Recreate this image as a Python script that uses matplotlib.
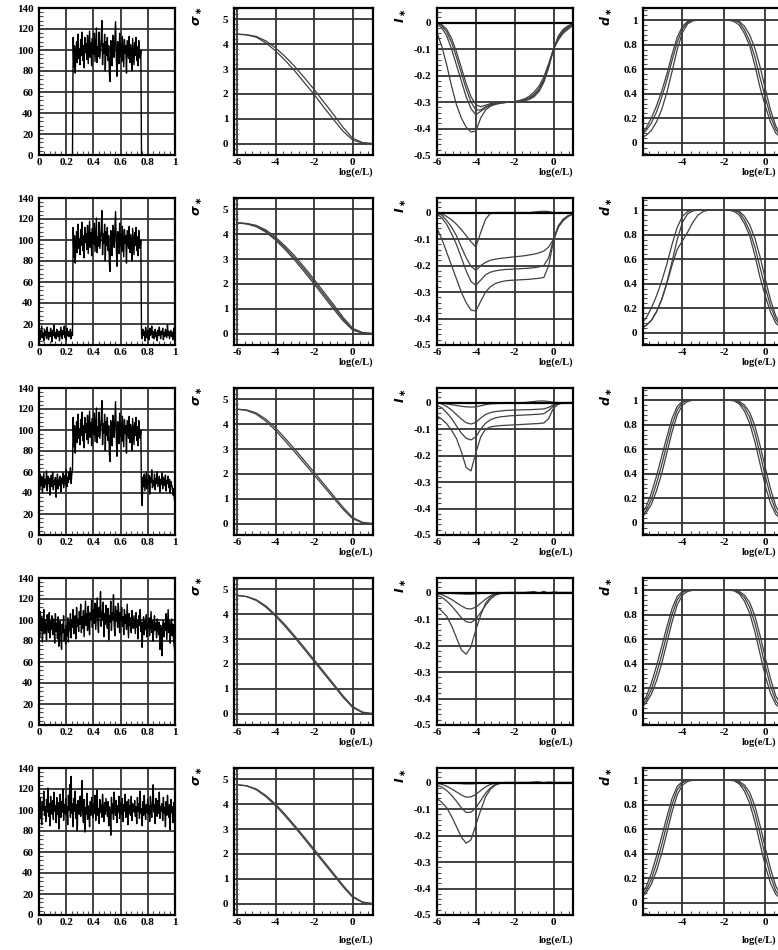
import matplotlib
matplotlib.use('Agg')
import matplotlib.pyplot as plt
import numpy as np
from matplotlib.ticker import FixedLocator, MultipleLocator

plt.rcParams['font.family'] = ['Liberation Serif', 'DejaVu Serif']
plt.rcParams['font.weight'] = 'bold'
plt.rcParams['font.size'] = 8

W, H = 778, 950

# ---- signals (left column) ----
plateau = [
    112, 84, 104, 78, 96, 108, 88, 115, 92, 101,
    86, 110, 95, 117, 90, 104, 83, 112, 98, 106,
    91, 114, 87, 102, 118, 93, 107, 85, 111, 99,
    96, 116, 89, 105, 121, 88, 103, 94, 117, 92,
    101, 110, 128, 86, 106, 97, 115, 80, 108, 95,
    112, 90, 104, 77, 70, 109, 98, 85, 114, 100,
    93, 111, 127, 96, 75, 108, 102, 87, 116, 94,
    106, 89, 113, 98, 84, 110, 97, 104, 78, 109,
    101, 92, 113, 88, 105, 96, 80, 111, 99, 86,
    107, 95, 112, 90, 103, 85, 109, 97, 92, 100,
]
side0 = [0] * 50
side2_left = [8, 14, 5, 12, 18, 7, 11, 4, 15, 9, 13, 6, 17, 10, 5, 12, 8, 16, 11, 3,
              14, 9, 19, 7, 12, 6, 15, 10, 8, 13, 4, 11, 17, 9, 6, 14, 10, 18, 7, 12,
              5, 16, 9, 13, 8, 11, 15, 6, 12, 9]
side2_right = [11, 6, 15, 9, 13, 4, 17, 10, 7, 14, 12, 5, 16, 9, 11, 18, 7, 13, 6, 10,
               15, 8, 12, 4, 14, 9, 17, 11, 6, 13, 10, 16, 5, 12, 8, 15, 11, 7, 19, 9,
               13, 6, 10, 14, 8, 12, 5, 16, 9, 11]
side3_left = [52, 44, 58, 47, 55, 40, 50, 59, 45, 53, 48, 61, 42, 56, 49, 54, 38, 51, 57, 46,
              60, 43, 52, 48, 55, 36, 50, 58, 44, 53, 47, 56, 41, 54, 49, 59, 45, 52, 57, 48,
              62, 46, 55, 50, 60, 53, 64, 49, 58, 62]
side3_right = [40, 28, 55, 46, 58, 42, 51, 60, 44, 53, 48, 57, 39, 55, 50, 62, 45, 52, 47, 58,
               43, 54, 49, 60, 46, 51, 56, 41, 53, 48, 59, 44, 55, 50, 47, 57, 42, 52, 49, 56,
               45, 53, 40, 51, 48, 46, 38, 44, 35, 30]
signal4 = [
    98, 84, 108, 90, 102, 79, 96, 110, 87, 100, 93, 81, 105, 95, 88, 107, 83, 99, 91, 104,
    86, 101, 94, 78, 106, 89, 97, 82, 103, 75, 92, 99, 84, 72, 96, 88, 104, 80, 91, 77,
    95, 85, 102, 79, 98, 90, 106, 83, 100, 93, 110, 87, 97, 104, 82, 112, 94, 101, 89, 108,
    96, 115, 88, 103, 92, 109, 84, 100, 118, 95, 106, 90, 113, 98, 86, 107, 101, 119, 93, 104,
    110, 97, 116, 91, 105, 121, 99, 88, 112, 103, 127, 94, 108, 100, 117, 84, 106, 96, 114, 102,
    92, 111, 81, 104, 98, 118, 90, 107, 101, 124, 95, 85, 113, 99, 109, 93, 116, 104, 88, 107,
    100, 112, 94, 103, 86, 110, 97, 105, 91, 115, 99, 83, 106, 95, 102, 88, 109, 97, 92, 104,
    96, 87, 107, 93, 100, 82, 104, 95, 110, 89, 98, 74, 94, 103, 86, 99, 91, 105, 84, 97,
    93, 102, 85, 96, 108, 88, 99, 80, 94, 104, 90, 97, 83, 101, 92, 86, 98, 72, 95, 89,
    66, 94, 100, 84, 97, 90, 106, 81, 95, 110, 88, 99, 78, 93, 101, 85, 96, 80, 74, 68,
]
signal5 = [
    104, 92, 112, 97, 86, 108, 100, 118, 95, 103, 89, 110, 98, 121, 94, 106, 85, 113, 101, 96,
    109, 91, 117, 99, 104, 88, 112, 96, 107, 82, 101, 115, 93, 108, 98, 120, 90, 105, 97, 111,
    95, 103, 86, 114, 100, 124, 93, 132, 97, 106, 84, 111, 99, 118, 92, 105, 80, 109, 101, 96,
    113, 94, 107, 128, 98, 88, 110, 79, 102, 96, 116, 91, 104, 99, 84, 108, 95, 112, 100, 93,
    106, 97, 114, 90, 103, 119, 95, 101, 87, 110, 98, 105, 93, 115, 100, 89, 107, 96, 111, 102,
    94, 108, 85, 103, 99, 76, 112, 97, 106, 91, 117, 101, 95, 109, 88, 104, 98, 113, 92, 107,
    100, 96, 111, 89, 105, 99, 115, 93, 102, 108, 86, 110, 97, 104, 95, 113, 90, 106, 101, 98,
    109, 94, 103, 87, 112, 99, 106, 92, 118, 97, 101, 85, 108, 95, 114, 100, 91, 105, 98, 110,
    96, 104, 89, 113, 101, 93, 107, 124, 98, 105, 87, 111, 100, 94, 109, 97, 117, 92, 103, 99,
    106, 90, 112, 97, 102, 84, 108, 95, 114, 100, 93, 105, 81, 110, 98, 103, 88, 107, 96, 101,
]
signals = [
    side0 + plateau + side0,
    side2_left + plateau + side2_right,
    side3_left + plateau + side3_right,
    signal4,
    signal5,
]

# ---- sigma vs log(e/L) ----
log_coarse = [-6, -5.5, -5, -4.5, -4, -3.5, -3, -2.5, -2, -1.5, -1, -0.5, 0, 0.5, 1]
sigma = [
    [[4.40, 4.37, 4.28, 4.05, 3.73, 3.35, 2.92, 2.45, 1.98, 1.47, 0.98, 0.50, 0.15, 0.03, 0.01],
     [4.40, 4.38, 4.31, 4.13, 3.85, 3.50, 3.10, 2.65, 2.18, 1.68, 1.18, 0.66, 0.22, 0.05, 0.01]],
    [[4.45, 4.41, 4.30, 4.08, 3.76, 3.38, 2.95, 2.48, 2.00, 1.50, 1.00, 0.52, 0.15, 0.03, 0.01],
     [4.45, 4.42, 4.33, 4.12, 3.82, 3.45, 3.03, 2.57, 2.09, 1.59, 1.09, 0.59, 0.18, 0.04, 0.01],
     [4.45, 4.43, 4.35, 4.17, 3.88, 3.52, 3.12, 2.66, 2.18, 1.68, 1.18, 0.66, 0.22, 0.05, 0.01]],
    [[4.60, 4.55, 4.40, 4.12, 3.75, 3.32, 2.88, 2.42, 1.96, 1.50, 1.04, 0.58, 0.20, 0.04, 0.01],
     [4.60, 4.57, 4.45, 4.20, 3.85, 3.43, 2.99, 2.53, 2.07, 1.60, 1.13, 0.66, 0.25, 0.06, 0.01]],
    [[4.75, 4.70, 4.55, 4.28, 3.92, 3.50, 3.05, 2.58, 2.10, 1.62, 1.14, 0.66, 0.25, 0.05, 0.01],
     [4.75, 4.71, 4.58, 4.33, 3.98, 3.57, 3.12, 2.65, 2.17, 1.69, 1.21, 0.72, 0.29, 0.07, 0.01]],
    [[4.78, 4.73, 4.58, 4.30, 3.94, 3.52, 3.07, 2.60, 2.12, 1.64, 1.16, 0.68, 0.26, 0.06, 0.01],
     [4.78, 4.74, 4.61, 4.35, 4.00, 3.59, 3.14, 2.67, 2.19, 1.71, 1.23, 0.74, 0.30, 0.07, 0.01]],
]

# ---- I and d vs log(e/L) ----
log_fine = [-6, -5.75, -5.5, -5.25, -5, -4.75, -4.5, -4.25, -4, -3.75, -3.5, -3.25, -3, -2.75,
            -2.5, -2.25, -2, -1.75, -1.5, -1.25, -1, -0.75, -0.5, -0.25, 0, 0.25, 0.5, 0.75, 1]
info = [
    [[-0.04, -0.09, -0.16, -0.24, -0.31, -0.36, -0.395, -0.413, -0.41, -0.36, -0.33, -0.316, -0.309, -0.305,
      -0.302, -0.30, -0.30, -0.298, -0.295, -0.29, -0.28, -0.26, -0.225, -0.17, -0.10, -0.055, -0.03, -0.015, -0.005],
     [-0.005, -0.02, -0.05, -0.10, -0.16, -0.22, -0.28, -0.325, -0.348, -0.335, -0.322, -0.312, -0.307, -0.304,
      -0.302, -0.30, -0.30, -0.298, -0.294, -0.288, -0.275, -0.255, -0.22, -0.165, -0.10, -0.05, -0.025, -0.012, -0.004],
     [0, -0.012, -0.035, -0.075, -0.13, -0.19, -0.25, -0.30, -0.33, -0.33, -0.318, -0.31, -0.305, -0.303,
      -0.301, -0.30, -0.299, -0.296, -0.292, -0.284, -0.27, -0.25, -0.215, -0.16, -0.10, -0.06, -0.035, -0.02, -0.008],
     [0, -0.008, -0.025, -0.06, -0.11, -0.17, -0.23, -0.28, -0.31, -0.318, -0.312, -0.306, -0.303, -0.301,
      -0.30, -0.30, -0.298, -0.294, -0.288, -0.278, -0.262, -0.24, -0.205, -0.155, -0.10, -0.065, -0.04, -0.025, -0.01]],
    [[0, -0.004, -0.015, -0.027, -0.044, -0.064, -0.087, -0.11, -0.13, -0.075, -0.025, -0.003, 0, 0,
      0, 0, 0, 0, 0, 0, 0.002, 0.004, 0.005, 0.004, 0, 0, 0, 0, 0],
     [0, -0.01, -0.03, -0.055, -0.087, -0.13, -0.17, -0.203, -0.218, -0.2, -0.188, -0.18, -0.176, -0.173,
      -0.171, -0.169, -0.167, -0.165, -0.163, -0.16, -0.157, -0.152, -0.145, -0.13, -0.10, -0.05, -0.025, -0.012, -0.005],
     [-0.005, -0.02, -0.045, -0.08, -0.12, -0.17, -0.22, -0.26, -0.275, -0.255, -0.235, -0.225, -0.22, -0.217,
      -0.215, -0.214, -0.213, -0.212, -0.211, -0.21, -0.208, -0.205, -0.2, -0.17, -0.10, -0.05, -0.025, -0.012, -0.005],
     [-0.06, -0.10, -0.15, -0.20, -0.25, -0.30, -0.34, -0.368, -0.372, -0.335, -0.30, -0.28, -0.268, -0.262,
      -0.258, -0.256, -0.255, -0.254, -0.253, -0.252, -0.25, -0.248, -0.245, -0.20, -0.105, -0.055, -0.03, -0.015, -0.005]],
    [[0, -0.002, -0.005, -0.008, -0.011, -0.014, -0.016, -0.017, -0.016, -0.012, -0.008, -0.005, -0.004, -0.003,
      -0.003, -0.002, -0.002, -0.001, 0, 0.002, 0.004, 0.006, 0.006, 0.004, 0.001, 0, 0, 0, 0],
     [0, -0.005, -0.015, -0.028, -0.045, -0.062, -0.076, -0.081, -0.075, -0.058, -0.045, -0.038, -0.034, -0.032,
      -0.03, -0.029, -0.028, -0.028, -0.027, -0.027, -0.026, -0.025, -0.024, -0.018, -0.008, -0.003, -0.001, 0, 0],
     [-0.01, -0.02, -0.038, -0.06, -0.088, -0.115, -0.135, -0.141, -0.13, -0.10, -0.078, -0.065, -0.058, -0.054,
      -0.052, -0.05, -0.049, -0.048, -0.047, -0.046, -0.045, -0.044, -0.042, -0.03, -0.012, -0.004, -0.001, 0, 0],
     [-0.05, -0.063, -0.08, -0.105, -0.135, -0.185, -0.245, -0.258, -0.19, -0.13, -0.10, -0.092, -0.089, -0.087,
      -0.086, -0.085, -0.084, -0.083, -0.082, -0.081, -0.08, -0.079, -0.077, -0.06, -0.02, -0.006, -0.002, 0, 0]],
    [[0, 0, -0.002, -0.003, -0.004, -0.005, -0.006, -0.006, -0.005, -0.003, -0.002, -0.001, 0, 0,
      0, 0, 0, 0, 0, 0.002, 0.004, -0.003, 0.005, -0.004, 0.003, 0, 0, 0, 0],
     [-0.003, -0.008, -0.016, -0.026, -0.038, -0.05, -0.06, -0.062, -0.055, -0.04, -0.025, -0.012, -0.005, -0.002,
      0, 0, 0, 0, 0, 0, 0, 0, 0, 0, 0, 0, 0, 0, 0],
     [-0.01, -0.018, -0.032, -0.05, -0.072, -0.095, -0.11, -0.113, -0.10, -0.075, -0.048, -0.025, -0.01, -0.004,
      -0.001, 0, 0, 0, 0, 0, 0, 0, 0, 0, 0, 0, 0, 0, 0],
     [-0.054, -0.07, -0.09, -0.125, -0.17, -0.216, -0.233, -0.205, -0.14, -0.085, -0.04, -0.018, -0.007, -0.002,
      0, 0, 0, 0, 0, 0, 0, 0, 0, 0, 0, 0, 0, 0, 0]],
    [[0, 0, -0.001, -0.002, -0.003, -0.004, -0.005, -0.005, -0.004, -0.002, -0.001, 0, 0, 0,
      0, 0, 0, 0, 0, 0, 0.002, 0.003, -0.002, 0.002, 0, 0, 0, 0, 0],
     [-0.003, -0.007, -0.014, -0.024, -0.035, -0.047, -0.055, -0.054, -0.045, -0.03, -0.016, -0.007, -0.002, 0,
      0, 0, 0, 0, 0, 0, 0, 0, 0, 0, 0, 0, 0, 0, 0],
     [-0.01, -0.017, -0.03, -0.048, -0.07, -0.095, -0.113, -0.112, -0.095, -0.068, -0.04, -0.02, -0.007, -0.002,
      0, 0, 0, 0, 0, 0, 0, 0, 0, 0, 0, 0, 0, 0, 0],
     [-0.06, -0.075, -0.095, -0.128, -0.166, -0.205, -0.229, -0.216, -0.16, -0.104, -0.054, -0.025, -0.01, -0.003,
      0, 0, 0, 0, 0, 0, 0, 0, 0, 0, 0, 0, 0, 0, 0]],
]

dim = [
    [[0.07, 0.12, 0.20, 0.30, 0.42, 0.56, 0.72, 0.86, 0.95, 0.99, 1.0, 1.0, 1.0, 1.0,
      1.0, 1.0, 1.0, 1.0, 0.99, 0.96, 0.89, 0.79, 0.63, 0.45, 0.30, 0.17, 0.08, 0.04, 0.02],
     [0.06, 0.10, 0.16, 0.25, 0.37, 0.51, 0.67, 0.82, 0.93, 0.98, 1.0, 1.0, 1.0, 1.0,
      1.0, 1.0, 1.0, 1.0, 1.0, 0.98, 0.92, 0.83, 0.70, 0.53, 0.37, 0.22, 0.11, 0.05, 0.02],
     [0.04, 0.06, 0.10, 0.17, 0.27, 0.41, 0.58, 0.76, 0.90, 0.97, 0.995, 1.0, 1.0, 1.0,
      1.0, 1.0, 1.0, 1.0, 1.0, 0.99, 0.95, 0.88, 0.77, 0.62, 0.44, 0.27, 0.14, 0.06, 0.03]],
    [[0.07, 0.12, 0.20, 0.30, 0.42, 0.56, 0.72, 0.86, 0.95, 0.99, 1.0, 1.0, 1.0, 1.0,
      1.0, 1.0, 1.0, 1.0, 0.99, 0.96, 0.89, 0.79, 0.63, 0.45, 0.30, 0.17, 0.08, 0.04, 0.02],
     [0.04, 0.06, 0.10, 0.17, 0.27, 0.41, 0.58, 0.76, 0.90, 0.97, 0.995, 1.0, 1.0, 1.0,
      1.0, 1.0, 1.0, 1.0, 1.0, 0.99, 0.95, 0.88, 0.77, 0.62, 0.44, 0.27, 0.14, 0.06, 0.03],
     [0.03, 0.06, 0.10, 0.17, 0.27, 0.40, 0.55, 0.68, 0.75, 0.82, 0.90, 0.96, 0.99, 1.0,
      1.0, 1.0, 1.0, 1.0, 1.0, 0.98, 0.92, 0.83, 0.70, 0.53, 0.37, 0.22, 0.11, 0.05, 0.02]],
    [[0.06, 0.13, 0.24, 0.38, 0.54, 0.70, 0.85, 0.95, 0.99, 1.0, 1.0, 1.0, 1.0, 1.0,
      1.0, 1.0, 1.0, 1.0, 0.995, 0.97, 0.91, 0.81, 0.66, 0.48, 0.30, 0.16, 0.07, 0.03, 0.01],
     [0.05, 0.10, 0.19, 0.32, 0.47, 0.64, 0.80, 0.92, 0.98, 1.0, 1.0, 1.0, 1.0, 1.0,
      1.0, 1.0, 1.0, 1.0, 1.0, 0.98, 0.94, 0.86, 0.73, 0.56, 0.38, 0.22, 0.10, 0.04, 0.02],
     [0.04, 0.08, 0.15, 0.26, 0.40, 0.57, 0.74, 0.88, 0.96, 0.99, 1.0, 1.0, 1.0, 1.0,
      1.0, 1.0, 1.0, 1.0, 1.0, 0.99, 0.96, 0.90, 0.79, 0.63, 0.45, 0.28, 0.14, 0.06, 0.02]],
    [[0.06, 0.13, 0.24, 0.38, 0.54, 0.70, 0.85, 0.95, 0.99, 1.0, 1.0, 1.0, 1.0, 1.0,
      1.0, 1.0, 1.0, 1.0, 0.995, 0.97, 0.91, 0.81, 0.66, 0.48, 0.30, 0.16, 0.07, 0.03, 0.01],
     [0.05, 0.10, 0.19, 0.32, 0.47, 0.64, 0.80, 0.92, 0.98, 1.0, 1.0, 1.0, 1.0, 1.0,
      1.0, 1.0, 1.0, 1.0, 1.0, 0.98, 0.94, 0.86, 0.73, 0.56, 0.38, 0.22, 0.10, 0.04, 0.02],
     [0.04, 0.08, 0.15, 0.26, 0.40, 0.57, 0.74, 0.88, 0.96, 0.99, 1.0, 1.0, 1.0, 1.0,
      1.0, 1.0, 1.0, 1.0, 1.0, 0.99, 0.96, 0.90, 0.79, 0.63, 0.45, 0.28, 0.14, 0.06, 0.02]],
    [[0.06, 0.13, 0.24, 0.38, 0.54, 0.70, 0.85, 0.95, 0.99, 1.0, 1.0, 1.0, 1.0, 1.0,
      1.0, 1.0, 1.0, 1.0, 0.995, 0.97, 0.91, 0.81, 0.66, 0.48, 0.30, 0.16, 0.07, 0.03, 0.01],
     [0.05, 0.10, 0.19, 0.32, 0.47, 0.64, 0.80, 0.92, 0.98, 1.0, 1.0, 1.0, 1.0, 1.0,
      1.0, 1.0, 1.0, 1.0, 1.0, 0.98, 0.94, 0.86, 0.73, 0.56, 0.38, 0.22, 0.10, 0.04, 0.02],
     [0.04, 0.08, 0.15, 0.26, 0.40, 0.57, 0.74, 0.88, 0.96, 0.99, 1.0, 1.0, 1.0, 1.0,
      1.0, 1.0, 1.0, 1.0, 1.0, 0.99, 0.96, 0.90, 0.79, 0.63, 0.45, 0.28, 0.14, 0.06, 0.02]],
]

col_left = [39, 234, 437, 643]
col_width = [136, 139, 136, 143]
ylabels = [None, r'$\sigma_\ast$', r'$I_\ast$', r'$d_\ast$']
xlabel = 'log(e/L)'


def box(col, row):
    bottom = 1 - (155 + 190 * row) / H
    return [col_left[col] / W, bottom, col_width[col] / W, 147 / H]


def dress(ax, xlim, ylim, xt, xl, yt, yl, xminor, yminor):
    ax.set_xlim(*xlim)
    ax.set_ylim(*ylim)
    ax.xaxis.set_major_locator(FixedLocator(xt))
    ax.set_xticklabels(xl)
    ax.yaxis.set_major_locator(FixedLocator(yt))
    ax.set_yticklabels(yl)
    ax.xaxis.set_minor_locator(MultipleLocator(xminor))
    ax.yaxis.set_minor_locator(MultipleLocator(yminor))
    ax.grid(True, which='major', color='0.2', lw=1.3)
    ax.set_axisbelow(True)
    ax.tick_params(axis='x', which='major', length=0, pad=2)
    ax.tick_params(axis='y', which='major', length=0, pad=4)
    ax.tick_params(which='minor', direction='in', length=3, width=0.8, color='0.3')
    for sp in ax.spines.values():
        sp.set_linewidth(1.6)


fig = plt.figure(figsize=(W / 100, H / 100), dpi=100)

for r in range(5):
    # signal
    ax = fig.add_axes(box(0, r))
    ax.plot(np.linspace(0, 1, len(signals[r])), signals[r], color='k', lw=1.0)
    dress(ax, (0, 1), (0, 140),
          [0, 0.2, 0.4, 0.6, 0.8, 1], ['0', '0.2', '0.4', '0.6', '0.8', '1'],
          list(range(0, 141, 20)), [str(v) for v in range(0, 141, 20)], 0.04, 4)

    # sigma
    ax = fig.add_axes(box(1, r))
    for c in sigma[r]:
        ax.plot(log_coarse, c, color='0.25', lw=0.9)
    dress(ax, (-6.15, 1.05), (-0.45, 5.45),
          [-6, -4, -2, 0], ['-6', '-4', '-2', '0'],
          [0, 1, 2, 3, 4, 5], ['0', '1', '2', '3', '4', '5'], 0.4, 0.2)

    # information
    ax = fig.add_axes(box(2, r))
    for c in info[r]:
        ax.plot(log_fine, c, color='0.25', lw=0.9)
    ax.axhline(0, color='k', lw=1.6)
    dress(ax, (-6, 1), (-0.5, 0.055),
          [-6, -4, -2, 0], ['-6', '-4', '-2', '0'],
          [0, -0.1, -0.2, -0.3, -0.4, -0.5], ['0', '-0.1', '-0.2', '-0.3', '-0.4', '-0.5'], 0.4, 0.02)

    # dimension
    ax = fig.add_axes(box(3, r))
    for c in dim[r]:
        ax.plot(log_fine, c, color='0.25', lw=0.9)
    dress(ax, (-5.9, 1), (-0.1, 1.1),
          [-4, -2, 0], ['-4', '-2', '0'],
          [0, 0.2, 0.4, 0.6, 0.8, 1], ['0', '0.2', '0.4', '0.6', '0.8', '1'], 0.4, 0.04)

    drop = 25 if r == 4 else 17
    for col in (1, 2, 3):
        x0 = min(col_left[col] + col_width[col], W - 2) / W
        y0 = 1 - (155 + 190 * r + drop) / H
        fig.text(x0, y0, xlabel, ha='right', va='center', fontsize=7.5)
        fig.text((col_left[col] - 36) / W, 1 - (16 + 190 * r) / H, ylabels[col],
                 rotation=90, ha='center', va='center', fontsize=9)

fig.savefig('out.png', dpi=100)
